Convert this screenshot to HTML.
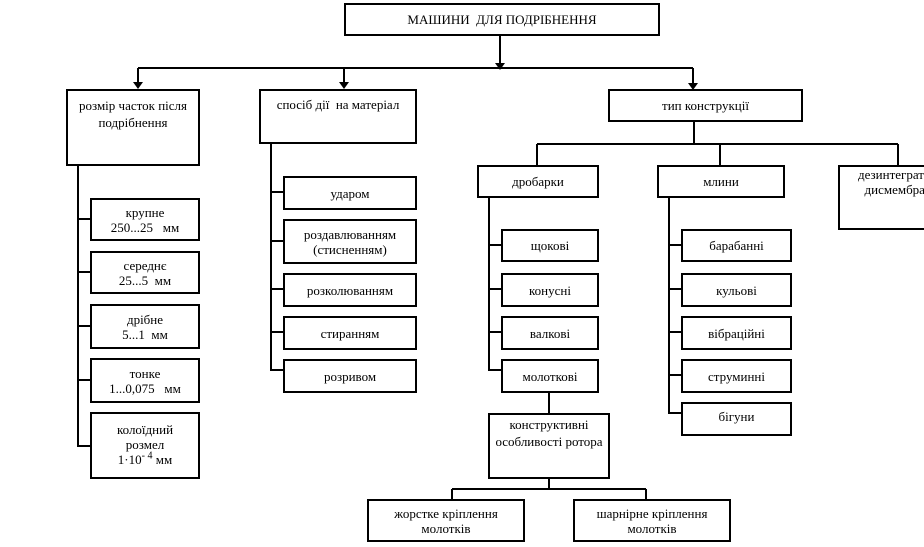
<!DOCTYPE html>
<html><head><meta charset="utf-8"><style>
body{margin:0;width:924px;height:547px;background:#fff;position:relative;overflow:hidden;font-family:"Liberation Serif",serif;font-size:13px;color:#000}
.b{position:absolute;box-sizing:border-box;border:2px solid #000;background:#fff;text-align:center;line-height:15px;padding-top:2px}
.c{display:flex;align-items:center;justify-content:center;padding-top:0}
svg{position:absolute;left:0;top:0}
</style></head><body>
<svg width="924" height="547" stroke="#000" stroke-width="2" fill="none">
<path d="M500 35V64M138 68H693M138 68V85M344 68V85M693 68V86"/>
<path d="M694 121V144M537 144H898M537 144V165M720 144V165M898 144V165"/>
<path d="M78 165V446H90M78 219H90M78 272H90M78 326H90M78 380H90"/>
<path d="M271 143V370H283M271 192H283M271 241H283M271 289H283M271 332H283"/>
<path d="M489 197V370H501M489 245H501M489 289H501M489 332H501"/>
<path d="M549 392V413M549 478V489M452 489H646M452 489V499M646 489V499"/>
<path d="M669 197V413H681M669 245H681M669 289H681M669 332H681M669 375H681"/>
<g fill="#000" stroke="none">
<path d="M495 63H505L500 70Z"/><path d="M133 82H143L138 89Z"/><path d="M339 82H349L344 89Z"/><path d="M688 83H698L693 90Z"/>
</g>
</svg>
<div class="b c" style="left:344px;top:3px;width:316px;height:33px;font-size:13px">МАШИНИ&nbsp; ДЛЯ ПОДРІБНЕННЯ</div>
<div class="b" style="left:66px;top:89px;width:134px;height:77px;padding-top:6px;line-height:17px">розмір часток після подрібнення</div>
<div class="b" style="left:259px;top:89px;width:158px;height:55px;padding-top:6px">спосіб дії&nbsp; на матеріал</div>
<div class="b c" style="left:608px;top:89px;width:195px;height:33px">тип конструкції</div>
<div class="b c" style="left:477px;top:165px;width:122px;height:33px">дробарки</div>
<div class="b c" style="left:657px;top:165px;width:128px;height:33px">млини</div>
<div class="b" style="left:838px;top:165px;width:100px;height:65px;padding-top:0;text-align:left;padding-left:18px;white-space:nowrap">дезинтегратори<br>&nbsp;&nbsp;дисмембратори</div>
<div class="b c" style="left:90px;top:198px;width:110px;height:43px">крупне<br>250...25&nbsp;&nbsp; мм</div>
<div class="b c" style="left:90px;top:251px;width:110px;height:43px">середнє<br>25...5&nbsp; мм</div>
<div class="b c" style="left:90px;top:304px;width:110px;height:45px">дрібне<br>5...1&nbsp; мм</div>
<div class="b c" style="left:90px;top:358px;width:110px;height:45px">тонке<br>1...0,075&nbsp;&nbsp; мм</div>
<div class="b" style="left:90px;top:412px;width:110px;height:67px;padding-top:8px">колоїдний<br>розмел<br>1·10<sup style="font-size:10px;line-height:0">-&nbsp;4</sup> мм</div>
<div class="b c" style="left:283px;top:176px;width:134px;height:34px">ударом</div>
<div class="b c" style="left:283px;top:219px;width:134px;height:45px">роздавлюванням<br>(стисненням)</div>
<div class="b c" style="left:283px;top:273px;width:134px;height:34px">розколюванням</div>
<div class="b c" style="left:283px;top:316px;width:134px;height:34px">стиранням</div>
<div class="b c" style="left:283px;top:359px;width:134px;height:34px">розривом</div>
<div class="b c" style="left:501px;top:229px;width:98px;height:33px">щокові</div>
<div class="b c" style="left:501px;top:273px;width:98px;height:34px">конусні</div>
<div class="b c" style="left:501px;top:316px;width:98px;height:34px">валкові</div>
<div class="b c" style="left:501px;top:359px;width:98px;height:34px">молоткові</div>
<div class="b" style="left:488px;top:413px;width:122px;height:66px;padding-top:1px;line-height:17px">конструктивні<br>особливості ротора</div>
<div class="b c" style="left:367px;top:499px;width:158px;height:43px">жорстке кріплення<br>молотків</div>
<div class="b c" style="left:573px;top:499px;width:158px;height:43px">шарнірне кріплення<br>молотків</div>
<div class="b c" style="left:681px;top:229px;width:111px;height:33px">барабанні</div>
<div class="b c" style="left:681px;top:273px;width:111px;height:34px">кульові</div>
<div class="b c" style="left:681px;top:316px;width:111px;height:34px">вібраційні</div>
<div class="b c" style="left:681px;top:359px;width:111px;height:34px">струминні</div>
<div class="b" style="left:681px;top:402px;width:111px;height:34px;padding-top:5px">бігуни</div>
</body></html>
